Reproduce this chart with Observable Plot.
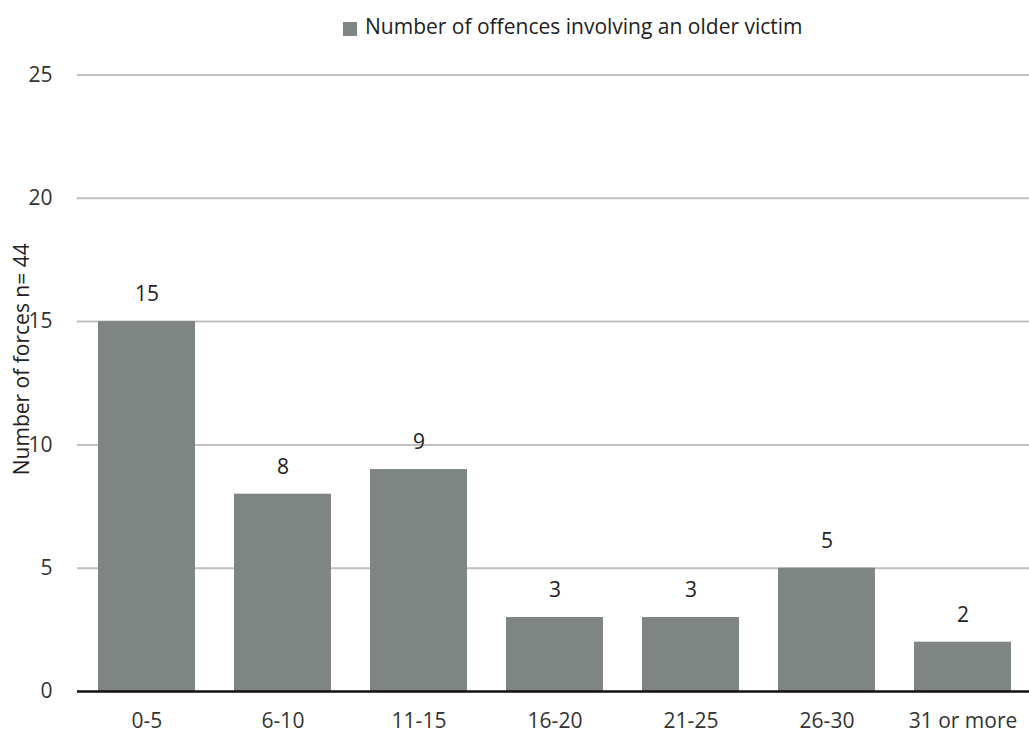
<!DOCTYPE html>
<html>
<head>
<meta charset="utf-8">
<script src="https://cdn.jsdelivr.net/npm/d3@7"></script>
<script src="https://cdn.jsdelivr.net/npm/@observablehq/plot@0.6"></script>
<style>
  body { margin: 0; background: #fff; font-family: "Open Sans", sans-serif; }
  #legend { height: 50px; position: relative; font-size: 21px; color: #222; }
  #legend .sw { position: absolute; left: 343px; top: 22px; width: 14px; height: 14px; background: #7f8582; }
  #legend .lab { position: absolute; left: 365px; top: 12px; white-space: nowrap; line-height: 29px; }
  svg { display: block; }
</style>
</head>
<body>
<div id="legend"><span class="sw"></span><span class="lab">Number of offences involving an older victim</span></div>
<div id="chart"></div>
<script>
const categories = ["0-5", "6-10", "11-15", "16-20", "21-25", "26-30", "31 or more"];
const values = [15, 8, 9, 3, 3, 5, 2];
const yTicks = [0, 5, 10, 15, 20, 25];
const seriesName = "Number of offences involving an older victim";
const yTitle = "Number of forces n= 44";

const data = categories.map((c, i) => ({category: c, value: values[i]}));

const chart = Plot.plot({
  width: 1029,
  height: 685,
  marginTop: 24.5,
  marginBottom: 44,
  marginLeft: 77,
  marginRight: 0,
  style: {fontFamily: "Open Sans, sans-serif", fontSize: "21px", color: "#333", background: "#fff"},
  x: {domain: categories, range: [76, 1033], paddingInner: 0.29, paddingOuter: 0.146, label: null},
  y: {domain: [0, 25], label: null},
  marks: [
    Plot.ruleY(yTicks.filter(d => d > 0), {stroke: "#c0c0c0", strokeWidth: 2}),
    Plot.barY(data, {x: "category", y: "value", fill: "#7f8582"}),
    Plot.ruleY([0], {stroke: "#111", strokeWidth: 2.5}),
    Plot.text(data, {x: "category", y: "value", text: d => String(d.value), dy: -27, fill: "#222", fontSize: 21}),
    Plot.axisX({tickSize: 0, tickPadding: 22, fontSize: 21, label: null}),
    Plot.axisY({ticks: yTicks, tickSize: 0, tickPadding: 25, fontSize: 21, label: null}),
    Plot.text([yTitle], {frameAnchor: "left", text: d => d, rotate: -90, textAnchor: "middle", dx: -55, dy: -24, fill: "#222", fontSize: 21})
  ]
});
document.getElementById("chart").appendChild(chart);
</script>
</body>
</html>
